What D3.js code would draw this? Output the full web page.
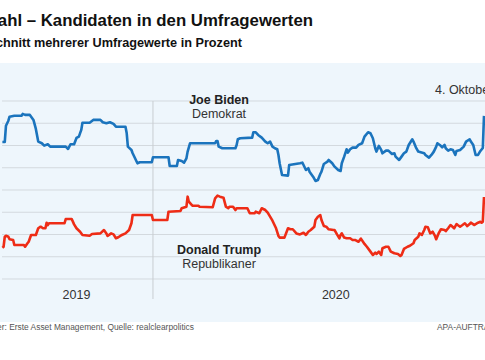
<!DOCTYPE html>
<html>
<head>
<meta charset="utf-8">
<script src="https://cdn.jsdelivr.net/npm/d3@7"></script>
<style>
  body { margin: 0; background: #fff; }
  svg { display: block; font-family: "Liberation Sans", Arial, sans-serif; }
</style>
</head>
<body>
<div id="chart"></div>
<script>
// poll averages (percent)
const bidenDates = ["2019-08-28","2019-08-30","2019-08-31","2019-09-02","2019-09-03","2019-09-07","2019-09-13","2019-09-14","2019-09-16","2019-09-20","2019-09-23","2019-09-25","2019-09-27","2019-09-30","2019-10-02","2019-10-05","2019-10-07","2019-10-20","2019-10-22","2019-10-24","2019-10-27","2019-10-29","2019-10-31","2019-11-02","2019-11-03","2019-11-09","2019-11-12","2019-11-18","2019-11-20","2019-11-23","2019-11-26","2019-11-29","2019-12-01","2019-12-09","2019-12-10","2019-12-11","2019-12-14","2019-12-15","2019-12-17","2019-12-19","2019-12-21","2019-12-31","2020-01-01","2020-01-14","2020-01-15","2020-01-21","2020-01-22","2020-01-25","2020-01-27","2020-01-29","2020-01-30","2020-02-01","2020-02-22","2020-02-23","2020-02-24","2020-02-25","2020-02-28","2020-03-10","2020-03-11","2020-03-12","2020-03-14","2020-03-24","2020-03-25","2020-03-27","2020-03-29","2020-04-01","2020-04-04","2020-04-06","2020-04-08","2020-04-10","2020-04-12","2020-04-14","2020-04-15","2020-04-16","2020-04-18","2020-04-23","2020-04-24","2020-05-03","2020-05-05","2020-05-06","2020-05-08","2020-05-10","2020-05-11","2020-05-14","2020-05-16","2020-05-18","2020-05-20","2020-05-21","2020-05-23","2020-05-26","2020-05-27","2020-05-30","2020-06-01","2020-06-04","2020-06-06","2020-06-07","2020-06-09","2020-06-11","2020-06-12","2020-06-14","2020-06-16","2020-06-19","2020-06-21","2020-06-24","2020-06-26","2020-06-29","2020-07-01","2020-07-03","2020-07-05","2020-07-06","2020-07-08","2020-07-10","2020-07-11","2020-07-14","2020-07-16","2020-07-19","2020-07-21","2020-07-22","2020-07-25","2020-07-27","2020-07-29","2020-07-31","2020-08-02","2020-08-05","2020-08-06","2020-08-08","2020-08-10","2020-08-12","2020-08-15","2020-08-16","2020-08-19","2020-08-21","2020-08-23","2020-08-25","2020-08-26","2020-08-28","2020-08-30","2020-09-01","2020-09-02","2020-09-04","2020-09-06","2020-09-08","2020-09-10","2020-09-11","2020-09-14","2020-09-17","2020-09-19","2020-09-22","2020-09-23","2020-09-25","2020-09-27","2020-09-29","2020-10-01","2020-10-03","2020-10-04"];
const bidenValues = [48.32,48.32,49.78,50.23,50.59,50.68,50.68,50.84,50.75,50.75,50.30,49.49,48.35,48.20,47.99,48.11,47.90,47.90,47.69,48.11,48.11,48.68,48.80,49.40,50.05,50.05,50.30,50.30,50.09,50.00,50.09,49.94,49.69,49.69,49.13,47.90,47.60,47.30,46.85,46.40,46.49,46.49,46.94,46.94,46.16,46.16,46.70,46.61,46.46,46.85,47.45,48.20,48.20,48.41,48.41,47.90,47.75,47.75,48.05,48.56,48.65,48.71,49.19,49.19,48.95,48.71,48.35,48.20,48.35,47.90,47.75,47.66,47.15,46.40,45.35,45.29,46.25,46.40,46.46,46.25,45.80,45.96,45.65,45.20,44.81,44.90,45.44,45.65,46.34,46.55,46.70,46.40,46.10,45.80,45.71,46.40,47.00,47.66,47.36,47.66,47.81,47.81,48.05,48.20,48.80,49.19,49.10,48.65,47.75,47.45,47.96,47.60,47.30,47.54,47.54,47.24,47.30,47.00,46.70,47.00,47.30,47.45,48.05,48.56,48.35,47.84,47.45,47.39,47.30,47.15,46.91,47.15,47.45,47.90,48.20,48.05,47.84,48.05,47.75,47.54,47.66,47.60,47.15,47.51,47.60,47.90,48.35,48.56,48.35,48.05,47.15,47.15,47.51,47.78,50.66];

const trumpDates = ["2019-08-28","2019-08-29","2019-08-30","2019-08-31","2019-09-02","2019-09-03","2019-09-06","2019-09-07","2019-09-15","2019-09-16","2019-09-18","2019-09-19","2019-09-21","2019-09-25","2019-09-27","2019-09-29","2019-10-01","2019-10-03","2019-10-04","2019-10-05","2019-10-06","2019-10-19","2019-10-20","2019-10-25","2019-10-27","2019-10-29","2019-11-01","2019-11-03","2019-11-09","2019-11-11","2019-11-18","2019-11-21","2019-11-23","2019-11-24","2019-11-27","2019-11-29","2019-12-01","2019-12-03","2019-12-06","2019-12-09","2019-12-12","2019-12-14","2019-12-15","2019-12-19","2019-12-31","2020-01-01","2020-01-13","2020-01-14","2020-01-24","2020-01-25","2020-01-29","2020-01-30","2020-01-31","2020-02-02","2020-02-03","2020-02-08","2020-02-09","2020-02-20","2020-02-22","2020-02-24","2020-02-26","2020-02-29","2020-03-02","2020-03-04","2020-03-05","2020-03-08","2020-03-10","2020-03-11","2020-03-15","2020-03-20","2020-03-22","2020-03-26","2020-03-27","2020-03-30","2020-04-01","2020-04-04","2020-04-06","2020-04-08","2020-04-10","2020-04-13","2020-04-15","2020-04-16","2020-04-20","2020-04-23","2020-04-25","2020-04-27","2020-04-30","2020-05-03","2020-05-06","2020-05-08","2020-05-10","2020-05-12","2020-05-15","2020-05-16","2020-05-18","2020-05-20","2020-05-21","2020-05-23","2020-05-25","2020-05-27","2020-05-31","2020-06-01","2020-06-03","2020-06-05","2020-06-06","2020-06-07","2020-06-09","2020-06-11","2020-06-14","2020-06-16","2020-06-18","2020-06-21","2020-06-23","2020-06-26","2020-06-28","2020-07-01","2020-07-03","2020-07-05","2020-07-06","2020-07-08","2020-07-10","2020-07-11","2020-07-14","2020-07-16","2020-07-18","2020-07-21","2020-07-24","2020-07-26","2020-07-27","2020-07-29","2020-08-01","2020-08-03","2020-08-06","2020-08-07","2020-08-10","2020-08-11","2020-08-13","2020-08-15","2020-08-16","2020-08-18","2020-08-20","2020-08-22","2020-08-24","2020-08-25","2020-08-27","2020-08-29","2020-09-01","2020-09-02","2020-09-04","2020-09-06","2020-09-07","2020-09-09","2020-09-11","2020-09-12","2020-09-14","2020-09-16","2020-09-18","2020-09-20","2020-09-22","2020-09-23","2020-09-26","2020-09-27","2020-09-29","2020-10-01","2020-10-02","2020-10-03","2020-10-04"];
const trumpValues = [38.81,38.90,39.80,39.89,39.80,39.57,39.51,39.06,39.06,38.90,39.21,39.35,39.96,39.96,40.56,40.70,40.56,40.56,41.06,40.85,41.01,41.01,41.39,41.39,40.91,40.56,40.25,39.96,39.89,40.04,40.10,40.40,40.10,39.87,40.10,40.01,39.66,39.75,39.96,40.10,40.40,41.01,41.75,41.75,41.75,41.30,41.30,42.05,42.11,42.36,42.50,43.40,42.95,42.71,42.59,42.59,42.50,42.45,43.25,43.49,43.40,43.31,42.50,42.36,42.50,42.50,42.20,42.36,42.36,42.36,41.91,41.91,42.05,41.91,42.36,42.20,41.96,41.60,41.24,40.56,39.87,39.72,39.72,40.56,40.47,40.47,40.10,40.01,40.16,39.96,40.25,40.40,40.70,41.30,41.60,41.75,41.30,40.76,40.70,40.47,40.40,40.40,40.01,39.66,39.96,40.10,39.72,39.66,39.66,39.51,39.51,39.35,39.63,39.15,38.90,38.46,38.16,38.37,38.25,38.46,38.16,38.76,38.90,38.90,38.46,38.31,38.25,38.07,38.16,38.70,38.90,38.99,39.21,39.51,39.80,40.10,39.96,40.40,40.70,40.65,40.10,40.25,39.87,39.57,40.10,40.47,40.40,40.31,40.56,40.85,40.76,40.56,40.94,40.85,40.70,40.85,41.01,40.76,40.94,41.06,40.85,40.94,41.06,41.15,41.06,41.15,43.37];

const gridValues = [36, 38, 40, 42, 44, 46, 48, 50, 52];
const yearLabels = ["2019", "2020"];
const yearLabelDates = ["2019-10-29", "2020-06-02"];
const yearBreak = "2020-01-01";
const domainDates = ["2019-08-26", "2020-10-04"];

const width = 485, height = 360;
const parse = d3.timeParse("%Y-%m-%d");

const svg = d3.select("#chart").append("svg")
    .attr("width", width)
    .attr("height", height);

const x = d3.scaleTime()
    .domain(domainDates.map(parse))
    .range([0, 484]);

const y = d3.scaleLinear()
    .domain([36, 52])
    .range([279, 101]);

// header (the chart is cut off left and right, as in the original)
svg.append("text")
    .attr("x", 313).attr("y", 26)
    .attr("text-anchor", "end")
    .style("font-size", "16.8px").style("font-weight", "bold").attr("fill", "#111")
    .text("US-Wahl – Kandidaten in den Umfragewerten");

svg.append("text")
    .attr("x", 242).attr("y", 47)
    .attr("text-anchor", "end")
    .style("font-size", "12.7px").style("font-weight", "bold").attr("fill", "#111")
    .text("Durchschnitt mehrerer Umfragewerte in Prozent");

// panel
svg.append("rect")
    .attr("x", 0).attr("y", 63)
    .attr("width", width).attr("height", 259)
    .attr("fill", "#eef6fc");

svg.append("g").selectAll("line")
  .data(gridValues)
  .enter().append("line")
    .attr("x1", 2).attr("x2", width)
    .attr("y1", d => y(d)).attr("y2", d => y(d))
    .attr("stroke", "#d3d9de").attr("stroke-width", 1);

svg.append("line")
    .attr("x1", x(parse(yearBreak))).attr("x2", x(parse(yearBreak)))
    .attr("y1", y(52)).attr("y2", 299)
    .attr("stroke", "#c9cdd1").attr("stroke-width", 1);

svg.append("g").selectAll("text")
  .data(yearLabels)
  .enter().append("text")
    .attr("x", (d, i) => x(parse(yearLabelDates[i])))
    .attr("y", 299)
    .attr("text-anchor", "middle")
    .style("font-size", "12.5px").attr("fill", "#333")
    .text(d => d);

// lines
const line = d3.line()
    .x(d => x(d.date))
    .y(d => y(d.value));

const biden = bidenDates.map((d, i) => ({date: parse(d), value: bidenValues[i]}));
const trump = trumpDates.map((d, i) => ({date: parse(d), value: trumpValues[i]}));

svg.append("path")
    .datum(trump)
    .attr("d", line)
    .attr("fill", "none")
    .attr("stroke", "#ee2c16")
    .attr("stroke-width", 2.6)
    .attr("stroke-linejoin", "round");

svg.append("path")
    .datum(biden)
    .attr("d", line)
    .attr("fill", "none")
    .attr("stroke", "#1b74bd")
    .attr("stroke-width", 2.6)
    .attr("stroke-linejoin", "round");

// candidate labels
const labels = [
  {name: "Joe Biden", party: "Demokrat", y: 104},
  {name: "Donald Trump", party: "Republikaner", y: 254}
];
labels.forEach(l => {
  svg.append("text")
      .attr("x", 219).attr("y", l.y)
      .attr("text-anchor", "middle")
      .style("font-size", "12.5px").style("font-weight", "bold").attr("fill", "#222")
      .text(l.name);
  svg.append("text")
      .attr("x", 219).attr("y", l.y + 14)
      .attr("text-anchor", "middle")
      .style("font-size", "12.5px").attr("fill", "#333")
      .text(l.party);
});

svg.append("text")
    .attr("x", 435).attr("y", 94)
    .style("font-size", "12.5px").attr("fill", "#333")
    .text("4. Oktober");

// footer
svg.append("text")
    .attr("x", 194).attr("y", 330)
    .attr("text-anchor", "end")
    .style("font-size", "8.4px").attr("fill", "#555")
    .text("Grafik: APA, Auftraggeber: Erste Asset Management, Quelle: realclearpolitics");

svg.append("text")
    .attr("x", 437).attr("y", 330)
    .style("font-size", "8.4px").attr("fill", "#555")
    .text("APA-AUFTRAGSGRAFIK");
</script>
</body>
</html>
